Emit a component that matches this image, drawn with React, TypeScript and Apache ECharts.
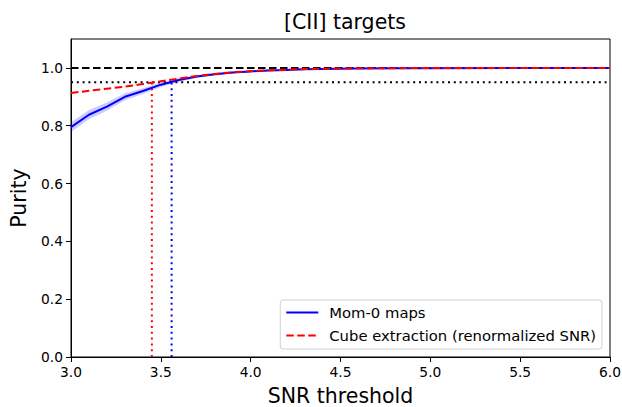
import React, { useEffect, useRef } from "react";
import * as echarts from "echarts";

const snr = [3.0, 3.1, 3.2, 3.3, 3.4, 3.5, 3.6, 3.7, 3.8, 3.9, 4.0, 4.1, 4.2, 4.3, 4.4, 4.5, 4.6, 4.8, 5.0, 5.5, 6.0];
const mom0 = [0.795, 0.838, 0.866, 0.9, 0.92, 0.942, 0.958, 0.97, 0.978, 0.984, 0.988, 0.991, 0.993, 0.995, 0.996, 0.997, 0.998, 0.999, 0.999, 1.0, 1.0];
const mom0Low = [0.778, 0.822, 0.852, 0.888, 0.91, 0.934, 0.952, 0.965, 0.974, 0.981, 0.986, 0.989, 0.992, 0.994, 0.995, 0.996, 0.997, 0.998, 0.998, 0.999, 0.999];
const mom0High = [0.812, 0.854, 0.88, 0.912, 0.93, 0.95, 0.964, 0.975, 0.982, 0.987, 0.99, 0.993, 0.994, 0.996, 0.997, 0.998, 0.999, 1.0, 1.0, 1.0, 1.0];
const cube = [0.913, 0.921, 0.928, 0.935, 0.944, 0.954, 0.963, 0.972, 0.979, 0.985, 0.989, 0.992, 0.994, 0.996, 0.997, 0.998, 0.999, 0.999, 1.0, 1.0, 1.0];
const xTicks = [3.0, 3.5, 4.0, 4.5, 5.0, 5.5, 6.0];
const yTicks = [0.0, 0.2, 0.4, 0.6, 0.8, 1.0];
const cubeThreshold = 3.45;
const mom0Threshold = 3.56;
const purityTarget = 0.95;

const font = "DejaVu Sans";
const dashed = [7.5, 3.5];
const dotted = [2, 3.8];

export default function App() {
  const ref = useRef<HTMLDivElement>(null);
  useEffect(() => {
    if (!ref.current) return;
    const chart = echarts.init(ref.current, undefined, { renderer: "svg" });
    const pair = (ys: number[]) => snr.map((x, i) => [x, ys[i]]);
    chart.setOption({
      animation: false,
      textStyle: { fontFamily: font },
      title: {
        text: "[CII] targets",
        left: 340,
        textAlign: "center",
        top: 6,
        textStyle: { fontFamily: font, fontSize: 20.5, fontWeight: "normal", color: "#000" },
      },
      grid: {
        left: 71,
        right: 12,
        top: 39,
        bottom: 50,
        outerBoundsMode: "none",
        containLabel: false,
        show: true,
        borderColor: "#000",
        borderWidth: 1,
        backgroundColor: "transparent",
      },
      legend: {
        data: ["Mom-0 maps", "Cube extraction (renormalized SNR)"],
        orient: "vertical",
        align: "left",
        right: 20,
        bottom: 58,
        padding: [5, 6, 6, 5],
        itemGap: 8,
        itemWidth: 32,
        itemHeight: 14,
        borderColor: "#d0d0d0",
        borderWidth: 1,
        borderRadius: 3,
        backgroundColor: "rgba(255,255,255,0.8)",
        itemStyle: { opacity: 0 },
        textStyle: { fontFamily: font, fontSize: 14.8, color: "#000", padding: [0, 0, 0, 6] },
      },
      xAxis: {
        type: "value",
        min: 3,
        max: 6,
        interval: 0.5,
        name: "SNR threshold",
        nameLocation: "middle",
        nameGap: 28,
        nameTextStyle: { fontFamily: font, fontSize: 20.5, color: "#000" },
        axisLine: { show: true, onZero: false, lineStyle: { color: "#000", width: 1 } },
        axisTick: { show: true, inside: false, length: 5, lineStyle: { color: "#000" }, customValues: xTicks },
        axisLabel: { color: "#000", fontSize: 13.8, fontFamily: font, margin: 8, formatter: (v: number) => v.toFixed(1), customValues: xTicks },
        splitLine: { show: false },
      },
      yAxis: {
        type: "value",
        min: 0,
        max: 1.1,
        name: "Purity",
        nameLocation: "middle",
        nameGap: 42,
        nameTextStyle: { fontFamily: font, fontSize: 20.5, color: "#000" },
        axisLine: { show: true, onZero: false, lineStyle: { color: "#000", width: 1 } },
        axisTick: { show: true, inside: false, length: 5, lineStyle: { color: "#000" }, customValues: yTicks },
        axisLabel: { color: "#000", fontSize: 13.8, fontFamily: font, margin: 8, formatter: (v: number) => v.toFixed(1), customValues: yTicks },
        splitLine: { show: false },
      },
      series: [
        {
          type: "custom",
          name: "band",
          silent: true,
          z: 1,
          data: [0],
          renderItem: (params: any, api: any) => {
            const pts: number[][] = [];
            snr.forEach((x, i) => pts.push(api.coord([x, mom0High[i]])));
            for (let i = snr.length - 1; i >= 0; i--) pts.push(api.coord([snr[i], mom0Low[i]]));
            return {
              type: "polygon",
              shape: { points: pts },
              style: { fill: "rgba(0,0,255,0.2)", stroke: "none" },
            };
          },
        },
        {
          type: "line",
          name: "Mom-0 maps",
          data: pair(mom0),
          symbol: "none",
          z: 3,
          lineStyle: { color: "#0000ff", width: 2, type: "solid" },
          itemStyle: { color: "#0000ff" },
        },
        {
          type: "line",
          name: "Cube extraction (renormalized SNR)",
          data: pair(cube),
          symbol: "none",
          z: 4,
          lineStyle: { color: "#ff0000", width: 2, type: dashed },
          itemStyle: { color: "#ff0000" },
        },
        {
          type: "line",
          name: "ref1",
          data: [[3, 1], [6, 1]],
          symbol: "none",
          z: 2,
          lineStyle: { color: "#000", width: 2, type: dashed },
        },
        {
          type: "line",
          name: "ref95",
          data: [[3, purityTarget], [6, purityTarget]],
          symbol: "none",
          z: 2,
          lineStyle: { color: "#000", width: 2, type: dotted },
        },
        {
          type: "line",
          name: "cubeV",
          data: [[cubeThreshold, 0], [cubeThreshold, purityTarget]],
          symbol: "none",
          z: 2,
          lineStyle: { color: "#ff0000", width: 2, type: dotted },
        },
        {
          type: "line",
          name: "momV",
          data: [[mom0Threshold, 0], [mom0Threshold, purityTarget]],
          symbol: "none",
          z: 2,
          lineStyle: { color: "#0000ff", width: 2, type: dotted },
        },
      ],
    });
    return () => chart.dispose();
  }, []);
  return <div ref={ref} style={{ width: 622, height: 407, position: "absolute", left: 0, top: 0 }} />;
}
